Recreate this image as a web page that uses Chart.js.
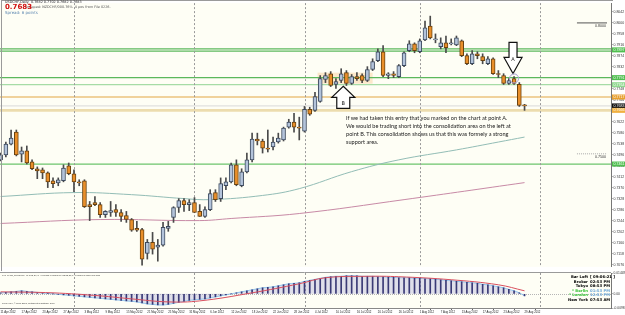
<!DOCTYPE html>
<html>
<head>
<meta charset="utf-8">
<script src="https://cdn.jsdelivr.net/npm/chart.js@4.4.0/dist/chart.umd.min.js"></script>
<style>
body { margin: 0; width: 625px; height: 315px; overflow: hidden; background: #fff; position: relative; font-family: "DejaVu Sans", sans-serif; }
canvas { position: absolute; left: -2px; }
#main { top: 0; }
#macd { top: 270px; }
.t { position: absolute; white-space: nowrap; line-height: 1; }
#frame { position: absolute; left: 1px; top: 0; width: 611px; height: 270px; border-left: 1px solid #9a9a9a; border-top: 1px solid #9a9a9a; pointer-events: none; }
#note { position: absolute; left: 346px; top: 114px; font-family: Lato, sans-serif; font-size: 5.6px; line-height: 8px; color: #222; white-space: nowrap; }
#info { position: absolute; left: 560px; top: 275px; font-size: 3.8px; line-height: 4.6px; font-weight: bold; }
#info div span:first-child { display: inline-block; width: 28px; text-align: right; margin-right: 2px; }
</style>
</head>
<body>
<canvas id="main" width="627" height="270"></canvas>
<canvas id="macd" width="627" height="45"></canvas>
<div id="frame"></div>

<div class="t" style="left:5px;top:1px;font-size:3.4px;color:#222;">USDCHF,Daily&nbsp; 0.7682 0.7702 0.7682 0.7683</div>
<div class="t" style="left:26px;top:6px;font-size:3.4px;color:#555;">mapped: NZDCHF/000.76%&nbsp; 4 pos from File 0226.</div>
<div class="t" style="left:5px;top:4px;font-size:7px;font-weight:bold;color:#d01010;">0.7683</div>
<div class="t" style="left:5px;top:11px;font-size:4px;color:#5b86b0;">Spread: 6 points</div>

<div id="note">If we had taken this entry that you marked on the chart at point A.<br>We would be trading short into the consolidation area on the left at<br>point B. This consolidation shows us that this was formely a strong<br>support area.</div>

<div class="t" style="left:2px;top:274px;font-size:2.1px;font-family:'Liberation Sans',sans-serif;color:#333;">FX5_MACD_Divergence_v1.1(12, 26, 9) -0.000303 0.000308 MACD(12,26,9) -0.000303 0.00084 Pls Click</div>
<div class="t" style="left:2px;top:302px;font-size:2.2px;font-family:'Liberation Sans',sans-serif;color:#333;">FxPro MT4, © 2001-2012, MetaQuotes Software Corp.</div>

<div id="info">
  <div><span>Bar Left</span><span>[ 09:06:21 ]</span></div>
  <div><span>Broker</span><span>02:53 PM</span></div>
  <div><span>Tokyo</span><span>08:53 PM</span></div>
  <div><span style="color:#39c339">* Berlin</span><span style="color:#6fa8d8">01:53 PM</span></div>
  <div><span style="color:#39c339">* London</span><span style="color:#6fa8d8">12:53 PM</span></div>
  <div><span>New York</span><span>07:53 AM</span></div>
</div>

<script>
// daily bars, 11 Apr 2012 .. 29 Aug 2012
const dates = [
  '11 Apr 2012','12 Apr 2012','13 Apr 2012','16 Apr 2012','17 Apr 2012','18 Apr 2012','19 Apr 2012','20 Apr 2012','23 Apr 2012','24 Apr 2012','25 Apr 2012','26 Apr 2012','27 Apr 2012','30 Apr 2012',
  '1 May 2012','2 May 2012','3 May 2012','4 May 2012','7 May 2012','8 May 2012','9 May 2012','10 May 2012','11 May 2012','14 May 2012','15 May 2012','16 May 2012','17 May 2012','18 May 2012','21 May 2012','22 May 2012','23 May 2012','24 May 2012','25 May 2012','28 May 2012','29 May 2012','30 May 2012','31 May 2012',
  '1 Jun 2012','4 Jun 2012','5 Jun 2012','6 Jun 2012','7 Jun 2012','8 Jun 2012','11 Jun 2012','12 Jun 2012','13 Jun 2012','14 Jun 2012','15 Jun 2012','18 Jun 2012','19 Jun 2012','20 Jun 2012','21 Jun 2012','22 Jun 2012','25 Jun 2012','26 Jun 2012','27 Jun 2012','28 Jun 2012','29 Jun 2012',
  '2 Jul 2012','3 Jul 2012','4 Jul 2012','5 Jul 2012','6 Jul 2012','9 Jul 2012','10 Jul 2012','11 Jul 2012','12 Jul 2012','13 Jul 2012','16 Jul 2012','17 Jul 2012','18 Jul 2012','19 Jul 2012','20 Jul 2012','23 Jul 2012','24 Jul 2012','25 Jul 2012','26 Jul 2012','27 Jul 2012','30 Jul 2012','31 Jul 2012',
  '1 Aug 2012','2 Aug 2012','3 Aug 2012','6 Aug 2012','7 Aug 2012','8 Aug 2012','9 Aug 2012','10 Aug 2012','13 Aug 2012','14 Aug 2012','15 Aug 2012','16 Aug 2012','17 Aug 2012','20 Aug 2012','21 Aug 2012','22 Aug 2012','23 Aug 2012','24 Aug 2012','27 Aug 2012','28 Aug 2012','29 Aug 2012'
];

const opens = [
  .7477,.7496,.7537,.7583,.7499,.7511,.7469,.7443,.7439,.7427,
  .7397,.7389,.7397,.7454,.7424,.7393,.7397,.7306,.7314,.7306,
  .7268,.7276,.7287,.7276,.7264,.7249,.7215,.7211,.7120,.7162,
  .7143,.7151,.7215,.7257,.7295,.7321,.7306,.7314,.7280,.7261,
  .7287,.7352,.7329,.7378,.7393,.7458,.7378,.7431,.7477,.7556,
  .7549,.7522,.7526,.7545,.7553,.7602,.7621,.7602,.7587,.7670,
  .7666,.7700,.7784,.7806,.7765,.7780,.7810,.7769,.7795,.7799,
  .7780,.7822,.7856,.7890,.7799,.7806,.7795,.7837,.7894,.7920,
  .7890,.7935,.7988,.7935,.7909,.7924,.7920,.7916,.7932,.7875,
  .7844,.7882,.7871,.7844,.7863,.7806,.7799,.7769,.7787,.7765,
  .7685
];
const highs = [
  .7503,.7545,.7591,.7591,.7526,.7530,.7477,.7450,.7446,.7431,
  .7408,.7408,.7458,.7465,.7439,.7401,.7401,.7318,.7337,.7314,
  .7283,.7318,.7306,.7287,.7280,.7253,.7242,.7215,.7173,.7200,
  .7173,.7238,.7242,.7298,.7329,.7329,.7325,.7333,.7306,.7298,
  .7363,.7363,.7408,.7408,.7465,.7477,.7443,.7503,.7579,.7579,
  .7556,.7591,.7564,.7579,.7602,.7632,.7655,.7640,.7681,.7678,
  .7735,.7799,.7810,.7814,.7787,.7825,.7818,.7803,.7810,.7806,
  .7833,.7863,.7901,.7913,.7810,.7814,.7841,.7890,.7932,.7924,
  .7939,.8007,.8026,.7958,.7943,.7950,.7939,.7950,.7935,.7882,
  .7894,.7890,.7882,.7871,.7867,.7818,.7806,.7787,.7795,.7772,
  .7689
];
const lows = [
  .7473,.7488,.7534,.7492,.7469,.7461,.7439,.7405,.7405,.7371,
  .7371,.7378,.7393,.7420,.7355,.7378,.7295,.7245,.7302,.7257,
  .7257,.7261,.7261,.7242,.7238,.7204,.7204,.7075,.7098,.7117,
  .7090,.7147,.7204,.7238,.7276,.7280,.7283,.7276,.7261,.7257,
  .7283,.7318,.7318,.7363,.7389,.7378,.7374,.7427,.7469,.7534,
  .7503,.7507,.7515,.7541,.7549,.7598,.7583,.7553,.7583,.7647,
  .7662,.7697,.7772,.7757,.7750,.7772,.7761,.7765,.7780,.7772,
  .7776,.7818,.7852,.7795,.7787,.7791,.7791,.7833,.7890,.7886,
  .7886,.7932,.7939,.7924,.7901,.7886,.7916,.7913,.7871,.7841,
  .7841,.7863,.7844,.7841,.7803,.7791,.7765,.7765,.7765,.7681,
  .7666
];
const closes = [
  .7496,.7537,.7560,.7496,.7511,.7465,.7443,.7435,.7427,.7393,
  .7386,.7401,.7446,.7424,.7393,.7389,.7298,.7298,.7306,.7268,
  .7280,.7283,.7276,.7261,.7249,.7208,.7208,.7098,.7162,.7136,
  .7151,.7219,.7223,.7295,.7321,.7306,.7314,.7276,.7261,.7287,
  .7348,.7325,.7386,.7393,.7458,.7382,.7431,.7477,.7556,.7549,
  .7522,.7518,.7545,.7560,.7598,.7621,.7602,.7598,.7670,.7651,
  .7719,.7787,.7799,.7761,.7776,.7806,.7769,.7795,.7787,.7780,
  .7822,.7852,.7890,.7799,.7806,.7799,.7837,.7886,.7920,.7894,
  .7932,.7981,.7943,.7939,.7924,.7905,.7924,.7943,.7875,.7844,
  .7882,.7875,.7856,.7863,.7806,.7803,.7769,.7780,.7769,.7685,
  .7683
];

// moving averages, read at a few bars
const maFastIdx = [0, 14, 25, 35, 40, 50, 57, 67, 76, 87, 95, 100];
const maFastVal = [.7337, .7352, .7344, .7329, .7325, .7341, .7367, .7432, .7477, .7515, .7545, .7564];
const maSlowIdx = [0, 19, 38, 44, 57, 77, 100];
const maSlowVal = [.7234, .7249, .7245, .7253, .7272, .7325, .7390];

// MACD subwindow
const macd = [
  .0007,.0010,.0014,.0017,.0021,.0017,.0014,.0010,.0007,.0003,
  .0000,-.0003,-.0007,-.0010,-.0014,-.0017,-.0021,-.0024,-.0028,-.0031,
  -.0035,-.0038,-.0042,-.0045,-.0049,-.0052,-.0056,-.0063,-.0070,-.0073,
  -.0077,-.0077,-.0073,-.0066,-.0059,-.0052,-.0045,-.0042,-.0038,-.0035,
  -.0028,-.0021,-.0014,-.0007,.0000,.0007,.0014,.0021,.0028,.0035,
  .0042,.0045,.0049,.0056,.0063,.0070,.0073,.0077,.0087,.0094,
  .0101,.0108,.0115,.0119,.0122,.0122,.0126,.0126,.0126,.0122,
  .0122,.0122,.0119,.0119,.0115,.0115,.0112,.0112,.0112,.0108,
  .0108,.0105,.0105,.0101,.0098,.0094,.0091,.0087,.0084,.0080,
  .0077,.0073,.0066,.0063,.0056,.0049,.0042,.0031,.0021,.0007,
  -.0014
];
const signalIdx = [0, 10, 19, 25, 32, 38, 48, 57, 62, 70, 76, 86, 95, 100];
const signalVal = [.0014, .0007, -.0014, -.0035, -.0056, -.0049, .0007, .0070, .0112, .0122, .0119, .0098, .0063, .0021];

const priceTicks = [.8042,.8000,.7958,.7916,.7874,.7832,.7790,.7748,.7706,.7664,.7622,.7580,.7538,.7496,.7454,.7412,.7370,.7328,.7286,.7244,.7202,.7160,.7118,.7076];
const macdTicks = [.01449, 0, -.00984];
const macdTickText = ['0.01449', '0.00', '-0.00984'];

// horizontal lines drawn on the chart
const levelPrices = [.7901, .7892, .7791, .7764, .7717, .7683, .7666, .7461];
const levelColors = ['#5cb85c', '#5cb85c', '#5cb85c', '#a6dca6', '#e2a645', '#d9d9d9', '#ecdcae', '#6cc46c'];
const levelWidths = [1.2, 1.2, 1.2, 1.2, 1.2, 1, 2.6, 1.2];
const levelBoxes = [.7897, .7791, .7764, .7717, .7683, .7666, .7461];
const levelBoxColors = ['#4fbf4f', '#4fbf4f', '#8fd88f', '#e8a030', '#111111', '#f0b040', '#4fbf4f'];

const monthStarts = [14, 37, 58, 80, 103];
const zone = { from: 60.5, to: 71, top: .7810, bottom: .7768 };

const SLOTS = 117;
const labels = dates.concat(new Array(SLOTS - dates.length).fill(''));

function sparse(idx, val) {
  const a = new Array(dates.length).fill(null);
  idx.forEach((k, j) => a[k] = val[j]);
  return a;
}

const bullFill = '#b3c3da', bullLine = '#3d4a5e';
const bearFill = '#e98f2a', bearLine = '#6a4210';

Chart.defaults.font.family = "'Liberation Sans', sans-serif";

function clipArea(ctx, a) {
  ctx.beginPath();
  ctx.rect(a.left, a.top, a.right - a.left, a.bottom - a.top);
  ctx.clip();
}

function drawSeparators(chart) {
  const { ctx, chartArea: a, scales: { x } } = chart;
  ctx.save();
  ctx.strokeStyle = '#9a9a9a';
  ctx.lineWidth = 1;
  ctx.setLineDash([2, 2]);
  monthStarts.forEach(i => {
    const px = Math.round(x.getPixelForValue(i)) + 0.5;
    ctx.beginPath(); ctx.moveTo(px, a.top); ctx.lineTo(px, a.bottom); ctx.stroke();
  });
  ctx.restore();
}

function arrow(ctx, tx, ty, dir, headW, headH, shaftW, shaftH) {
  ctx.beginPath();
  ctx.moveTo(tx, ty);
  ctx.lineTo(tx + headW / 2, ty - dir * headH);
  ctx.lineTo(tx + shaftW / 2, ty - dir * headH);
  ctx.lineTo(tx + shaftW / 2, ty - dir * (headH + shaftH));
  ctx.lineTo(tx - shaftW / 2, ty - dir * (headH + shaftH));
  ctx.lineTo(tx - shaftW / 2, ty - dir * headH);
  ctx.lineTo(tx - headW / 2, ty - dir * headH);
  ctx.closePath();
  ctx.fillStyle = '#fff';
  ctx.fill();
  ctx.strokeStyle = '#111';
  ctx.lineWidth = 1.2;
  ctx.stroke();
}

const mainDecor = {
  id: 'mainDecor',
  beforeDraw(chart) {
    const { ctx, chartArea: a } = chart;
    ctx.save();
    ctx.fillStyle = '#fefef5';
    ctx.fillRect(a.left, a.top, a.right - a.left, a.bottom - a.top);
    ctx.restore();
  },
  beforeDatasetsDraw(chart) {
    const { ctx, chartArea: a, scales: { x, y } } = chart;
    ctx.save();
    clipArea(ctx, a);
    // consolidation zone
    ctx.fillStyle = 'rgba(249,214,165,0.55)';
    const zx1 = x.getPixelForValue(zone.from), zx2 = x.getPixelForValue(zone.to);
    const zy1 = y.getPixelForValue(zone.top), zy2 = y.getPixelForValue(zone.bottom);
    ctx.fillRect(zx1, zy1, zx2 - zx1, zy2 - zy1);
    // horizontal levels
    levelPrices.forEach((p, i) => {
      const py = y.getPixelForValue(p);
      ctx.strokeStyle = levelColors[i];
      ctx.lineWidth = levelWidths[i];
      ctx.beginPath(); ctx.moveTo(a.left, py); ctx.lineTo(a.right, py); ctx.stroke();
    });
    // round-number marks at the right
    const rx1 = x.getPixelForValue(110), rx2 = a.right - 4;
    let py = y.getPixelForValue(.8000);
    ctx.strokeStyle = '#555'; ctx.lineWidth = 1;
    ctx.beginPath(); ctx.moveTo(rx1, py); ctx.lineTo(rx2, py); ctx.stroke();
    ctx.font = "3.6px 'Liberation Sans'"; ctx.fillStyle = '#333'; ctx.textAlign = 'right'; ctx.textBaseline = 'top';
    ctx.fillText('0.8000', rx2 - 1, py + 1);
    py = y.getPixelForValue(.7500);
    ctx.strokeStyle = '#aaa'; ctx.setLineDash([1, 1]);
    ctx.beginPath(); ctx.moveTo(rx1, py); ctx.lineTo(rx2, py); ctx.stroke();
    ctx.setLineDash([]);
    ctx.fillText('0.7500', rx2 - 1, py + 1);
    ctx.restore();
    drawSeparators(chart);
  },
  afterDatasetsDraw(chart) {
    const { ctx, chartArea: a, scales: { x, y } } = chart;
    ctx.save();
    clipArea(ctx, a);
    // arrow B (up) and arrow A (down)
    const bx = x.getPixelForValue(65.4), by = y.getPixelForValue(.7758);
    arrow(ctx, bx, by, -1, 23, 11, 13, 11);
    const ax = x.getPixelForValue(97.8), ay = y.getPixelForValue(.7807);
    arrow(ctx, ax, ay, 1, 18, 16, 8, 15);
    ctx.fillStyle = '#111';
    ctx.font = "5px 'DejaVu Sans'";
    ctx.textAlign = 'center'; ctx.textBaseline = 'middle';
    ctx.fillText('B', bx, by + 17);
    ctx.fillText('A', ax, ay - 14);
    // circle on bar A
    ctx.strokeStyle = '#a99fd2'; ctx.lineWidth = 1;
    ctx.beginPath();
    ctx.ellipse(x.getPixelForValue(98), y.getPixelForValue(.7788), 4.5, 4.5, 0, 0, Math.PI * 2);
    ctx.stroke();
    ctx.restore();
  },
  afterDraw(chart) {
    const { ctx, chartArea: a, scales: { y } } = chart;
    ctx.save();
    ctx.font = "3.6px 'Liberation Sans'";
    ctx.textBaseline = 'middle'; ctx.textAlign = 'left';
    levelBoxes.forEach((p, i) => {
      const py = y.getPixelForValue(p);
      ctx.fillStyle = levelBoxColors[i];
      ctx.fillRect(a.right + 1, py - 2.5, chart.width - a.right - 1, 5);
      ctx.fillStyle = '#fff';
      ctx.fillText(p.toFixed(4), a.right + 2.5, py);
    });
    ctx.restore();
  }
};

const macdDecor = {
  id: 'macdDecor',
  beforeDraw(chart) {
    const { ctx, chartArea: a } = chart;
    ctx.save();
    ctx.fillStyle = '#fefef5';
    ctx.fillRect(a.left, a.top, a.right - a.left, a.bottom - a.top);
    ctx.strokeStyle = '#9a9a9a'; ctx.lineWidth = 1;
    ctx.beginPath(); ctx.moveTo(a.left, a.top - 0.5); ctx.lineTo(a.right, a.top - 0.5); ctx.stroke();
    ctx.restore();
  },
  beforeDatasetsDraw(chart) {
    const { ctx, chartArea: a, scales: { y } } = chart;
    ctx.save();
    const zy = Math.round(y.getPixelForValue(0)) + 0.5;
    ctx.strokeStyle = '#b5b5b5'; ctx.setLineDash([1, 1]);
    ctx.beginPath(); ctx.moveTo(a.left, zy); ctx.lineTo(a.right, zy); ctx.stroke();
    ctx.restore();
    drawSeparators(chart);
  }
};

new Chart(document.getElementById('main'), {
  type: 'bar',
  data: {
    labels: labels,
    datasets: [
      {
        label: 'body',
        data: opens.map((o, i) => [o, closes[i]]),
        backgroundColor: opens.map((o, i) => closes[i] >= o ? bullFill : bearFill),
        borderColor: opens.map((o, i) => closes[i] >= o ? bullLine : bearLine),
        borderWidth: 1,
        borderSkipped: false,
        barThickness: 4,
        minBarLength: 1,
        grouped: false,
        order: 1
      },
      {
        label: 'wick',
        data: lows.map((l, i) => [l, highs[i]]),
        backgroundColor: '#4a4a4a',
        barThickness: 1,
        grouped: false,
        order: 2
      },
      {
        type: 'line', label: 'MA slow',
        data: sparse(maSlowIdx, maSlowVal),
        borderColor: '#c88aa6', borderWidth: 1, pointRadius: 0,
        spanGaps: true, tension: 0.4, order: 3
      },
      {
        type: 'line', label: 'MA fast',
        data: sparse(maFastIdx, maFastVal),
        borderColor: '#93bdb6', borderWidth: 1, pointRadius: 0,
        spanGaps: true, tension: 0.4, order: 3
      }
    ]
  },
  options: {
    responsive: false, animation: false, devicePixelRatio: 1,
    layout: { padding: { top: 2, bottom: 2, left: 0, right: 0 } },
    plugins: { legend: { display: false }, tooltip: { enabled: false } },
    scales: {
      x: { display: false, offset: true },
      y: {
        position: 'right',
        min: .70681, max: .80757,
        afterFit(s) { s.width = 14; },
        afterBuildTicks(s) { s.ticks = priceTicks.map(v => ({ value: v })); },
        ticks: { font: { size: 3.5 }, color: '#333', padding: 1, callback: v => v.toFixed(4) },
        grid: { drawOnChartArea: false, tickLength: 1.5, tickColor: '#666' },
        border: { color: '#777' }
      }
    }
  },
  plugins: [mainDecor]
});

new Chart(document.getElementById('macd'), {
  type: 'bar',
  data: {
    labels: labels,
    datasets: [
      {
        label: 'hist',
        data: macd,
        backgroundColor: 'rgba(40,40,105,0.9)',
        barThickness: 1,
        grouped: false,
        order: 1
      },
      {
        type: 'line', label: 'MACD',
        data: macd,
        borderColor: '#8ec3ee', borderWidth: 1, pointRadius: 0,
        fill: 'origin', backgroundColor: 'rgba(165,165,215,0.35)',
        tension: 0.3, order: 2
      },
      {
        type: 'line', label: 'Signal',
        data: sparse(signalIdx, signalVal),
        borderColor: '#d9505f', borderWidth: 1, pointRadius: 0,
        spanGaps: true, tension: 0.4, order: 0
      }
    ]
  },
  options: {
    responsive: false, animation: false, devicePixelRatio: 1,
    layout: { padding: { top: 3, bottom: 0, left: 0, right: 0 } },
    plugins: { legend: { display: false }, tooltip: { enabled: false } },
    scales: {
      x: {
        offset: true,
        afterFit(s) { s.height = 7; },
        ticks: {
          autoSkip: false, maxRotation: 0, align: 'start', padding: 0.5,
          font: { size: 2.8 }, color: '#222',
          callback: (v, i) => (i % 4 === 0 && i < dates.length) ? labels[i] : null
        },
        grid: { drawOnChartArea: false, tickLength: 2, tickColor: '#666' },
        border: { color: '#888' }
      },
      y: {
        position: 'right',
        min: -.00984, max: .01449,
        afterFit(s) { s.width = 14; },
        afterBuildTicks(s) { s.ticks = macdTicks.map(v => ({ value: v })); },
        ticks: { font: { size: 3.3 }, color: '#333', padding: 1, callback: (v, i) => macdTickText[i] },
        grid: { drawOnChartArea: false, tickLength: 1.5, tickColor: '#666' },
        border: { color: '#777' }
      }
    }
  },
  plugins: [macdDecor]
});
</script>
</body>
</html>
